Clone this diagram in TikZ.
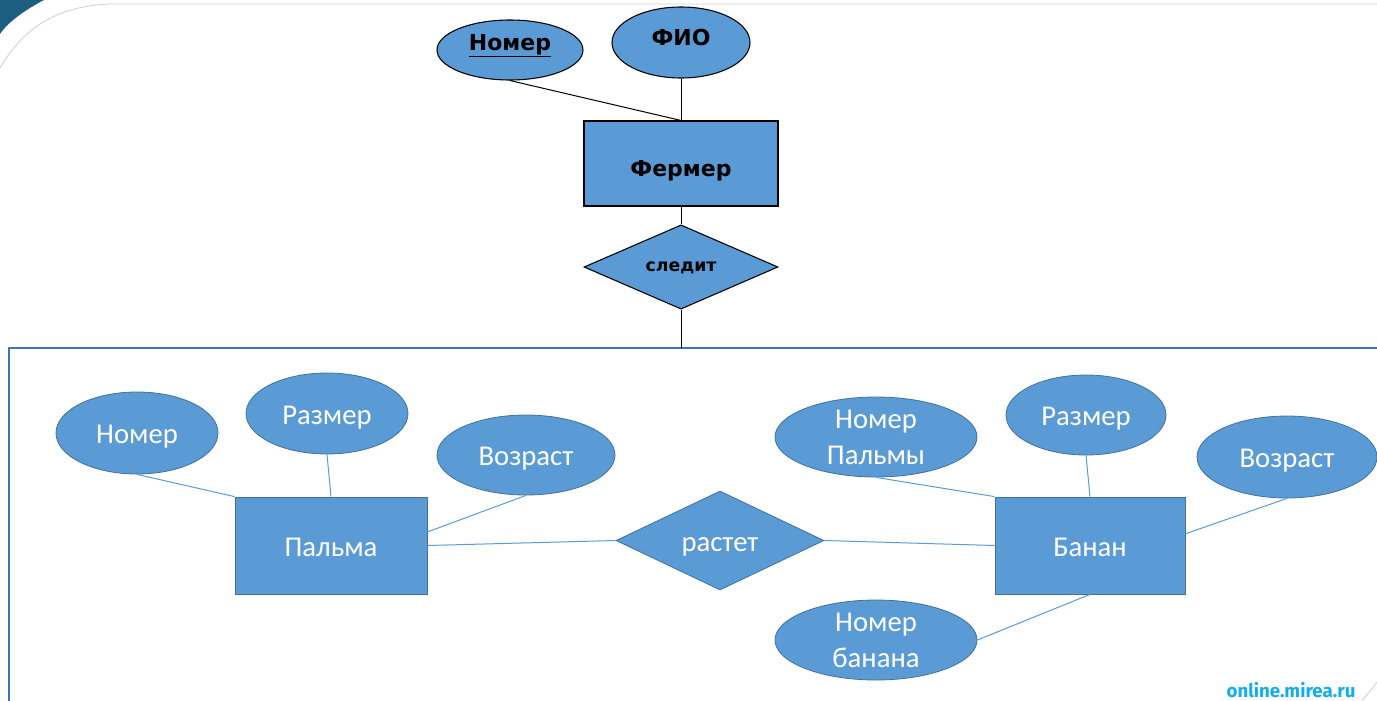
\documentclass[tikz,border=0pt]{standalone}
\usepackage{fontspec}
\setmainfont{Carlito}
\newfontfamily\topfont{DejaVu Sans}
\newfontfamily\markfont{Fira Sans}
\usetikzlibrary{shapes.geometric}
\definecolor{ofblue}{HTML}{5B9BD5}
\definecolor{ofedge}{HTML}{41719C}
\definecolor{boxedge}{HTML}{3A75B5}
\definecolor{teal}{HTML}{1C5E80}
\definecolor{decgrey}{HTML}{C8D0D6}
\definecolor{mark}{HTML}{12AEEA}
\tikzset{
  topent/.style={draw=black, line width=0.8pt, fill=ofblue, inner sep=0pt,
    font=\topfont\bfseries, text=black},
  topattr/.style={ellipse, topent},
  toplink/.style={draw=black, line width=0.75pt},
  lowent/.style={draw=ofedge, line width=0.6pt, fill=ofblue, inner sep=0pt,
    font=\fontsize{21.5}{27}\selectfont, text=white, align=center},
  lowattr/.style={ellipse, lowent},
  oneline/.style={text height=16pt, text depth=0pt},
  lowlink/.style={draw=ofblue, line width=0.75pt},
}
\begin{document}
\begin{tikzpicture}[x=0.75pt,y=-0.75pt]
\useasboundingbox (0,0) rectangle (1377,700);
% slide decorations
\fill[teal] (0,0) -- (44,0) .. controls (25,10) and (8,22) .. (0,34) -- cycle;
\draw[decgrey, line width=0.6pt] (0,68) .. controls (25,25) and (60,6) .. (110,4) -- (1377,4);
\draw[decgrey, line width=0.6pt] (1362,700) .. controls (1368,694) and (1373,688) .. (1377,682);
% lower frame
\draw[boxedge, line width=1.2pt] (9,702) -- (9,348) -- (1380,348);
% top part
\node[rectangle, topent, minimum width=0.75*194pt, minimum height=0.75*85pt, text height=19.5pt, text depth=0pt, font=\topfont\bfseries\fontsize{16.5}{18}\selectfont] (fermer) at (681,163.5) {Фермер};
\node[topattr, minimum width=0.75*146pt, minimum height=0.75*60pt, text height=8pt, text depth=8pt, font=\topfont\bfseries\fontsize{16.5}{18}\selectfont] (tnum) at (510,50) {\underline{Номер}};
\node[topattr, minimum width=0.75*138pt, minimum height=0.75*71pt, text height=11pt, text depth=6pt, font=\topfont\bfseries\fontsize{16.5}{18}\selectfont] (fio) at (681,42.5) {ФИО};
\node[diamond, topent, minimum width=0.75*194pt, minimum height=0.75*76pt, text height=8pt, text depth=2pt, font=\topfont\bfseries\fontsize{13}{15}\selectfont] (sledit) at (681,267) {следит};
\coordinate (frametop) at (681,348);
\draw[toplink] (tnum.south) -- (fermer.north);
\draw[toplink] (fio.south) -- (fermer.north);
\draw[toplink] (fermer.south) -- (sledit.north);
\draw[toplink] (sledit.south) -- (frametop);
% lower part
\node[rectangle, lowent, oneline, minimum width=0.75*192pt, minimum height=0.75*97pt] (palma) at (331,545.5) {Пальма};
\node[rectangle, lowent, oneline, minimum width=0.75*190pt, minimum height=0.75*97pt] (banan) at (1090,545.5) {Банан};
\node[diamond, lowent, text height=16.5pt, text depth=0pt, minimum width=0.75*208pt, minimum height=0.75*99pt] (rastet) at (720,540.5) {растет};
\node[lowattr, oneline, minimum width=0.75*162pt, minimum height=0.75*82pt] (pnum) at (137,433) {Номер};
\node[lowattr, oneline, minimum width=0.75*162pt, minimum height=0.75*81pt] (psize) at (327,413.5) {Размер};
\node[lowattr, oneline, minimum width=0.75*178pt, minimum height=0.75*80pt] (page) at (526,455) {Возраст};
\node[lowattr, minimum width=0.75*202pt, minimum height=0.75*80pt] (bpnum) at (876,437) {Номер\\Пальмы};
\node[lowattr, oneline, minimum width=0.75*160pt, minimum height=0.75*80pt] (bsize) at (1086,415) {Размер};
\node[lowattr, oneline, minimum width=0.75*180pt, minimum height=0.75*82pt] (bage) at (1287,457) {Возраст};
\node[lowattr, minimum width=0.75*202pt, minimum height=0.75*80pt] (bnum) at (876,640) {Номер\\банана};
\draw[lowlink] (pnum.south) -- (palma.north west);
\draw[lowlink] (psize.south) -- (palma.north);
\draw[lowlink] (page.south) -- (palma.8.6);
\draw[lowlink] (palma.east) -- (rastet.west);
\draw[lowlink] (rastet.east) -- (banan.west);
\draw[lowlink] (bpnum.south) -- (banan.north west);
\draw[lowlink] (bsize.south) -- (banan.north);
\draw[lowlink] (bage.south) -- (banan.7.5);
\draw[lowlink] (banan.south) -- (bnum.east);
% watermark
\node[font=\markfont\bfseries\fontsize{14}{16}\selectfont, text=mark, inner sep=0pt, anchor=base] (wm) at (1291,697) {online.mirea.ru};
\end{tikzpicture}
\end{document}
